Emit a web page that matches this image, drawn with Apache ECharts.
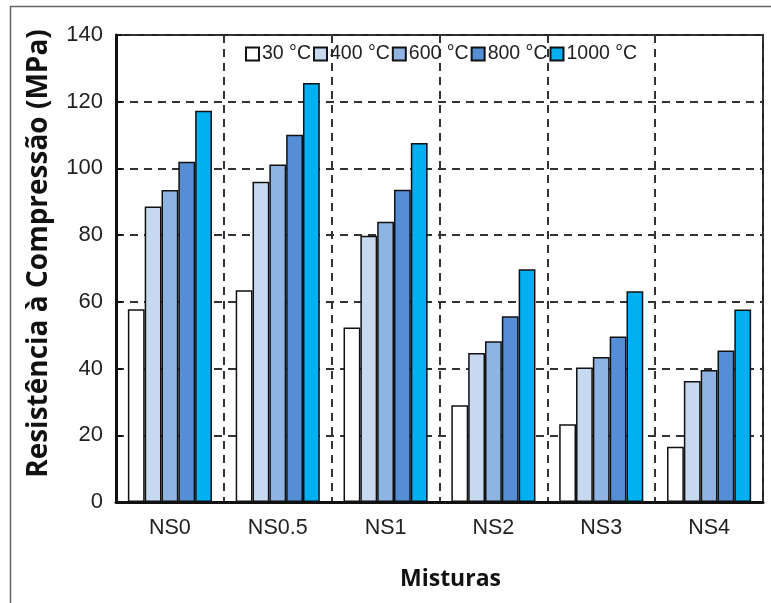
<!DOCTYPE html>
<html>
<head>
<meta charset="utf-8">
<script src="https://cdn.jsdelivr.net/npm/echarts@6/dist/echarts.min.js"></script>
<style>
html, body { margin: 0; padding: 0; background: #fff; }
#chart { width: 771px; height: 603px; }
</style>
</head>
<body>
<div id="chart"></div>
<script>
var categories = ['NS0', 'NS0.5', 'NS1', 'NS2', 'NS3', 'NS4'];
var seriesNames = ['30 °C', '400 °C', '600 °C', '800 °C', '1000 °C'];
var t30 = [57.8, 63.5, 52.3, 29.0, 23.3, 16.6];
var t400 = [88.6, 96.0, 79.8, 44.7, 40.3, 36.3];
var t600 = [93.5, 101.2, 84.0, 48.2, 43.5, 39.6];
var t800 = [102.0, 110.1, 93.6, 55.7, 49.6, 45.4];
var t1000 = [117.3, 125.6, 107.6, 69.8, 63.2, 57.7];
var yTicks = [0, 20, 40, 60, 80, 100, 120, 140];

var colors = ['#ffffff', '#c6d9f0', '#8eb4e3', '#558ed5', '#00b0f0'];
var values = [t30, t400, t600, t800, t1000];

var chart = echarts.init(document.getElementById('chart'));

var series = seriesNames.map(function (name, i) {
    return {
        name: name,
        type: 'bar',
        data: values[i],
        barGap: '0%',
        barCategoryGap: '22%',
        itemStyle: { color: colors[i], borderColor: '#111', borderWidth: 1.5 }
    };
});

chart.setOption({
    animation: false,
    textStyle: { fontFamily: 'Liberation Sans' },
    graphic: [{
        type: 'rect',
        left: 8, top: 4,
        shape: { width: 800, height: 700 },
        style: { fill: 'none', stroke: '#666', lineWidth: 1.5 }
    }],
    grid: {
        left: 116, right: 8, top: 35, bottom: 101,
        show: true, borderColor: '#222', borderWidth: 2
    },
    legend: {
        left: 240, top: 39,
        itemWidth: 13, itemHeight: 13, itemGap: 2,
        icon: 'rect',
        textStyle: { fontSize: 19.5, color: '#222', fontFamily: 'Liberation Sans', padding: [0, 0, 0, -2] },
        data: seriesNames
    },
    xAxis: {
        type: 'category',
        data: categories,
        name: 'Misturas',
        nameLocation: 'middle',
        nameGap: 66,
        nameTextStyle: { fontSize: 23, fontWeight: 'bold', color: '#111', fontFamily: 'Open Sans', padding: [0, 0, 0, 22] },
        axisLine: { lineStyle: { color: '#111', width: 3 } },
        axisTick: { inside: true, length: 6, lineStyle: { color: '#111', width: 2 } },
        axisLabel: { fontSize: 21.5, color: '#222', margin: 15 },
        splitLine: { show: true, lineStyle: { color: '#333', width: 2, type: [8, 6] } }
    },
    yAxis: {
        type: 'value',
        min: 0, max: 140, interval: 20,
        name: 'Resistência à Compressão (MPa)',
        nameLocation: 'middle',
        nameGap: 63,
        nameTextStyle: { fontSize: 28, fontWeight: 'bold', color: '#111', fontFamily: 'Open Sans', padding: [0, 0, 0, 30] },
        axisLine: { show: true, lineStyle: { color: '#111', width: 3 } },
        axisTick: { show: true, inside: true, length: 6, lineStyle: { color: '#111', width: 2 } },
        axisLabel: {
            fontSize: 22, color: '#222', margin: 13,
            formatter: function (v) { return yTicks.indexOf(v) >= 0 ? String(v) : ''; }
        },
        splitLine: { show: true, lineStyle: { color: '#333', width: 2, type: [8, 6] } }
    },
    series: series
});
</script>
</body>
</html>
